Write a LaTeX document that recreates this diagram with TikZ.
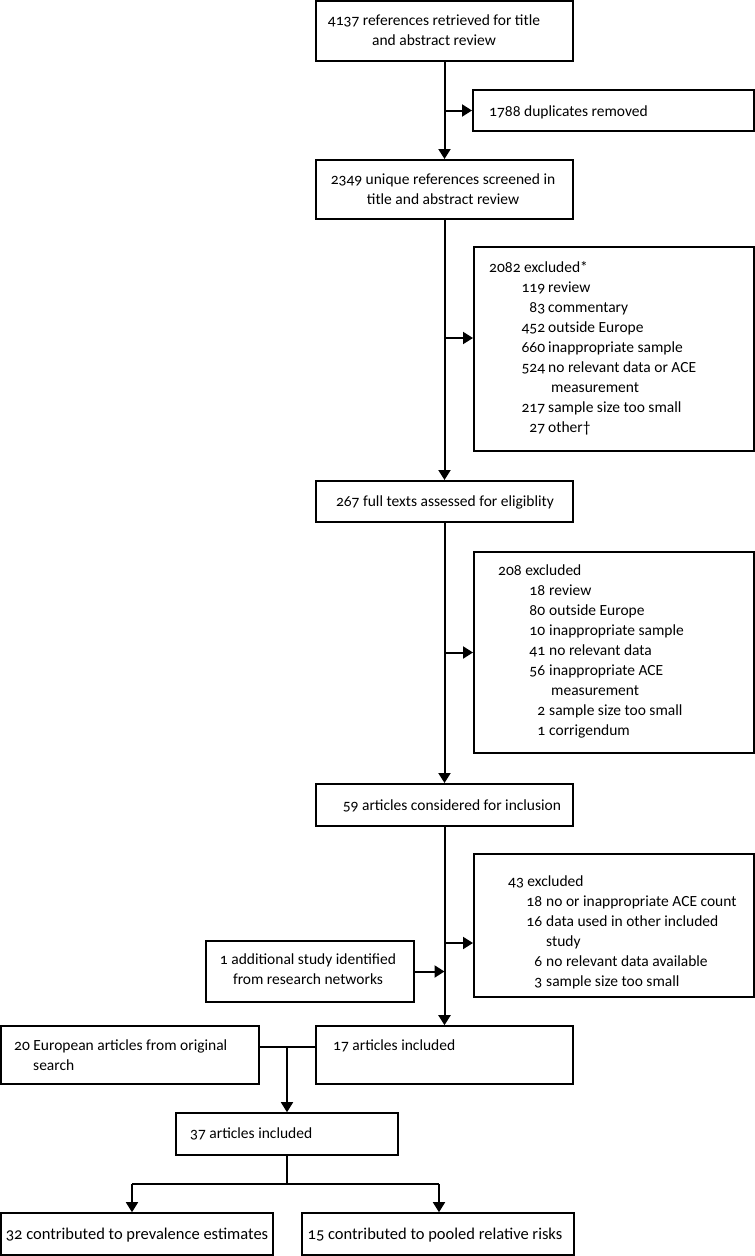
\documentclass[tikz,border=0pt]{standalone}
\usepackage{fontspec}
\setmainfont{Carlito}[Numbers=OldStyle]
\usetikzlibrary{arrows.meta}
\newcommand{\exr}[4]{\makebox[#1][r]{#2}\hspace{#3}#4}
\begin{document}
\begin{tikzpicture}[x=1pt,y=-1pt,
  box/.style 2 args={draw, line width=2pt, minimum width=#1, minimum height=#2, inner sep=0pt},
  boxb/.style 2 args={draw, line width=1.6pt, minimum width=#1, minimum height=#2, inner sep=0pt},
  txt/.style={inner sep=0pt, font=\fontsize{15.5}{20}\selectfont},
  txtb/.style={inner sep=0pt, font=\fontsize{16.5}{20}\selectfont},
  arr/.style={line width=2pt, -{Triangle[length=10pt,width=12pt]}},
  arrb/.style={line width=1.6pt, -{Triangle[length=10pt,width=12pt]}},
  lnb/.style={line width=1.6pt}]
\path[use as bounding box, fill=white] (0,0) rectangle (755,1256);

% boxes
\node[box={257pt}{60pt}] (b1) at (444.5,31) {};
\node[txt] (t1) at (434,31) {\begin{tabular}{@{}c@{}}4137 references retrieved for title\\and abstract review\end{tabular}};

\node[box={281pt}{41pt}] (dup) at (613.5,110.5) {};
\node[txt, anchor=west] (tdup) at (489,112) {1788 duplicates removed};

\node[box={257pt}{59pt}] (b2) at (444.5,189.5) {};
\node[txt] (t2) at (443,190) {\begin{tabular}{@{}c@{}}2349 unique references screened in\\title and abstract review\end{tabular}};

\node[box={280pt}{204pt}] (ex1) at (614,349) {};
\node[txt, anchor=west] (tex1) at (489,348) {\begin{tabular}{@{}l@{}}
2082 excluded*\\
\exr{56pt}{119}{3pt}{review}\\
\exr{56pt}{83}{3pt}{commentary}\\
\exr{56pt}{452}{3pt}{outside Europe}\\
\exr{56pt}{660}{3pt}{inappropriate sample}\\
\exr{56pt}{524}{3pt}{no relevant data or ACE}\\
\hspace*{62pt}measurement\\
\exr{56pt}{217}{3pt}{sample size too small}\\
\exr{56pt}{27}{3pt}{other†}
\end{tabular}};

\node[box={257pt}{41pt}] (b3) at (444.5,501.5) {};
\node[txt] (t3) at (445,502) {267 full texts assessed for eligiblity};

\node[box={280pt}{201pt}] (ex2) at (614,652.5) {};
\node[txt, anchor=west] (tex2) at (498,651) {\begin{tabular}{@{}l@{}}
208 excluded\\
\exr{47pt}{18}{4pt}{review}\\
\exr{47pt}{80}{4pt}{outside Europe}\\
\exr{47pt}{10}{4pt}{inappropriate sample}\\
\exr{47pt}{41}{4pt}{no relevant data}\\
\exr{47pt}{56}{4pt}{inappropriate ACE}\\
\hspace*{53pt}measurement\\
\exr{47pt}{2}{4pt}{sample size too small}\\
\exr{47pt}{1}{4pt}{corrigendum}
\end{tabular}};

\node[box={257pt}{42pt}] (b4) at (444.5,805) {};
\node[txt] (t4) at (452,806) {59 articles considered for inclusion};

\node[box={280pt}{143pt}] (ex3) at (614,925.5) {};
\node[txt, anchor=west] (tex3) at (508,932) {\begin{tabular}{@{}l@{}}
43 excluded\\
\exr{34pt}{18}{4pt}{no or inappropriate ACE count}\\
\exr{34pt}{16}{4pt}{data used in other included}\\
\hspace*{38pt}study\\
\exr{34pt}{6}{4pt}{no relevant data available}\\
\exr{34pt}{3}{4pt}{sample size too small}
\end{tabular}};

\node[box={208pt}{61pt}] (add) at (310,971.5) {};
\node[txt] (tadd) at (308,970) {\begin{tabular}{@{}c@{}}1 additional study identified\\from research networks\end{tabular}};

\node[boxb={257pt}{58pt}] (b17) at (444.5,1055) {};
\node[txt, anchor=west] (t17) at (333,1046) {17 articles included};

\node[boxb={258.2pt}{58pt}] (b20) at (129.9,1055) {};
\node[txt, anchor=west] (t20) at (14,1056.5) {\begin{tabular}{@{}l@{}}20 European articles from original\\\hspace*{19pt}search\end{tabular}};

\node[boxb={222pt}{42pt}] (b37) at (287,1134) {};
\node[txt, anchor=west] (t37) at (190,1134) {37 articles included};

\node[boxb={272.2pt}{42.2pt}] (b32) at (136.9,1234.1) {};
\node[txtb] (t32) at (137,1235) {32 contributed to prevalence estimates};

\node[boxb={272pt}{42.2pt}] (b15) at (438,1234.1) {};
\node[txtb] (t15) at (435,1235) {15 contributed to pooled relative risks};

% connectors
\draw[arr] (b1.south) -- (b2.north);
\draw[arr] (b1.south |- dup.west) -- (dup.west);
\draw[arr] (b2.south) -- (b3.north);
\coordinate (e1) at (444.5,338);
\draw[arr] (e1) -- (e1 -| ex1.west);
\draw[arr] (b3.south) -- (b4.north);
\draw[arr] (b3.south |- ex2.west) -- (ex2.west);
\draw[arr] (b4.south) -- (b17.north);
\coordinate (e3) at (444.5,943);
\draw[arr] (e3) -- (e3 -| ex3.west);
\draw[arr] (add.east) -- (add.east -| b4.south);

\coordinate (j) at (287,1047);
\draw[lnb] (j -| b20.east) -- (j -| b17.west);
\draw[arrb] (j) -- (b37.north);
\coordinate (k) at (287,1184);
\coordinate (kl) at (132,1184);
\coordinate (kr) at (439,1184);
\draw[lnb] (b37.south) -- (k);
\draw[lnb] (kl) -- (kr);
\draw[arrb] (kl) -- (kl |- b32.north);
\draw[arrb] (kr) -- (kr |- b15.north);
\end{tikzpicture}
\end{document}
